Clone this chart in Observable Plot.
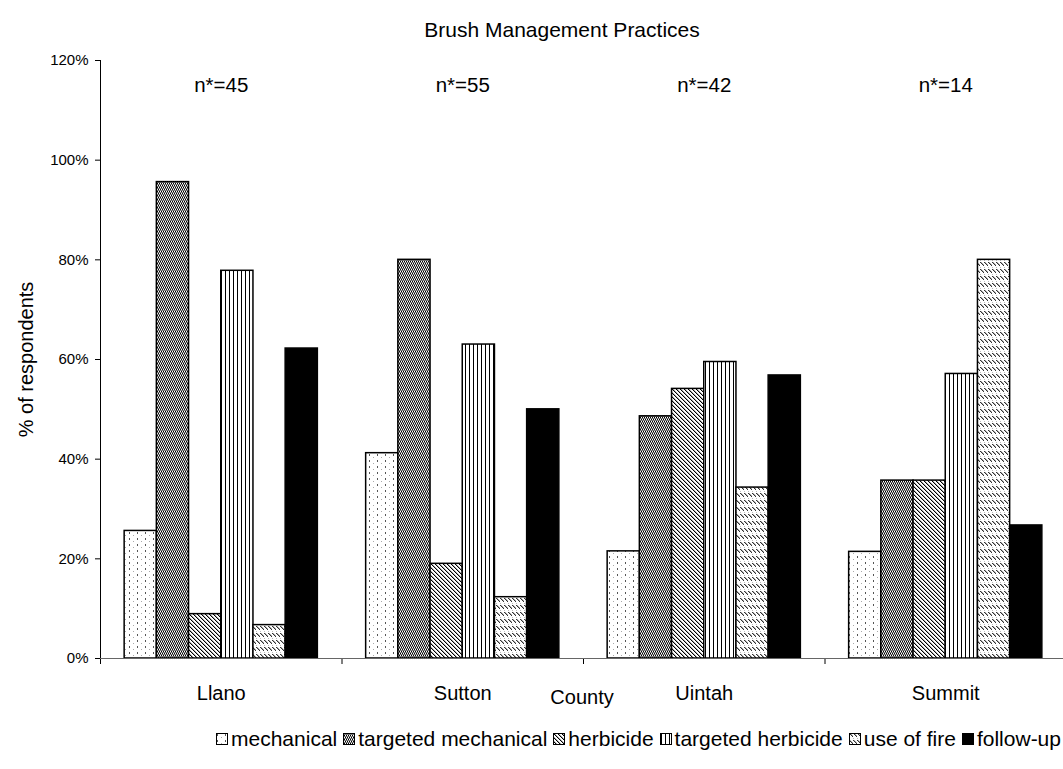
<!DOCTYPE html>
<html>
<head>
<meta charset="utf-8">
<script src="https://cdn.jsdelivr.net/npm/d3@7"></script>
<script src="https://cdn.jsdelivr.net/npm/@observablehq/plot@0.6"></script>
<style>
  html, body { margin: 0; padding: 0; background: #fff; }
  body { width: 1063px; height: 769px; overflow: hidden; position: relative; font-family: "Liberation Sans", Arial, sans-serif; color: #000; }
  #title { height: 45px; box-sizing: border-box; padding-left: 61px; text-align: center; font-size: 21px; line-height: 21px; padding-top: 19px; }
  #chart { height: 670px; }
  #legend { position: absolute; left: 216px; top: 727px; white-space: nowrap; font-size: 21px; line-height: 24px; display: flex; align-items: center; }
  #legend .item { display: inline-flex; align-items: center; margin-right: 6px; }
  #legend svg { margin-right: 3px; }
</style>
</head>
<body>
<div id="title">Brush Management Practices</div>
<div id="chart"></div>
<div id="legend"></div>
<script>
// ---- data ----
const counties = ["Llano", "Sutton", "Uintah", "Summit"];
const sampleSizes = [45, 55, 42, 14];
const practices = ["mechanical", "targeted mechanical", "herbicide", "targeted herbicide", "use of fire", "follow-up"];
const mechanical          = [0.256, 0.412, 0.215, 0.214];
const targetedMechanical  = [0.956, 0.800, 0.486, 0.357];
const herbicide           = [0.089, 0.190, 0.541, 0.357];
const targetedHerbicide   = [0.778, 0.630, 0.595, 0.571];
const useOfFire           = [0.067, 0.123, 0.343, 0.800];
const followUp            = [0.622, 0.500, 0.568, 0.267];
const yTicks = [0, 0.2, 0.4, 0.6, 0.8, 1.0, 1.2];
const yLabel = "% of respondents";

const series = [mechanical, targetedMechanical, herbicide, targetedHerbicide, useOfFire, followUp];
const patternIds = ["p-mech", "p-tmech", "p-herb", "p-therb", "p-fire", "p-follow"];

// grouping geometry in category units (Excel gap width 150%)
const gap = 1.5;
const span = practices.length + gap;

const rows = [];
practices.forEach((p, j) => counties.forEach((c, i) => rows.push({county: c, ci: i, practice: p, pj: j, value: series[j][i]})));

const barMarks = practices.map((p, j) => Plot.rectY(rows.filter(d => d.pj === j), {
  x1: d => d.ci * span + gap / 2 + d.pj,
  x2: d => d.ci * span + gap / 2 + d.pj + 1,
  y: "value",
  fill: `url(#${patternIds[j]})`,
  stroke: "#000",
  strokeWidth: 1.5
}));

const chart = Plot.plot({
  width: 1063,
  height: 670,
  marginTop: 15,
  marginBottom: 57,
  marginLeft: 100,
  marginRight: 0,
  style: {fontFamily: "Liberation Sans, Arial, sans-serif", fontSize: "15px", background: "#fff", color: "#000", overflow: "visible"},
  x: {
    domain: [0, counties.length * span],
    range: [100, 1066],
    ticks: counties.map((c, i) => i * span),
    tickFormat: () => "",
    tickSize: 6,
    label: null
  },
  y: {
    domain: [0, 1.2],
    ticks: yTicks,
    tickFormat: d3.format(".0%"),
    tickSize: 5,
    tickPadding: 7,
    label: yLabel,
    labelAnchor: "center",
    labelOffset: 82
  },
  marks: [
    ...barMarks,
    Plot.ruleY([0], {stroke: "#666", strokeWidth: 1.2}),
    Plot.ruleX([0], {stroke: "#000", strokeWidth: 1}),
    Plot.text(counties, {x: (c, i) => i * span + span / 2, frameAnchor: "bottom", dy: 41, text: c => c, fontSize: 20}),
    Plot.text(counties, {x: (c, i) => i * span + span / 2, y: () => 1.15, text: (c, i) => `n*=${sampleSizes[i]}`, fontSize: 20.5}),
    Plot.text(["County"], {frameAnchor: "bottom", dy: 45, text: d => d, fontSize: 20})
  ]
});

// pattern definitions
function addPatterns(svgSel) {
  const defs = svgSel.insert("defs", ":first-child");
  function pat(id, w, h, pixels, bg) {
    const p = defs.append("pattern").attr("id", id).attr("patternUnits", "userSpaceOnUse").attr("width", w).attr("height", h);
    p.append("rect").attr("width", w).attr("height", h).attr("fill", bg || "#fff");
    pixels.forEach(([x, y, pw, ph, col]) => p.append("rect").attr("x", x).attr("y", y).attr("width", pw).attr("height", ph).attr("fill", col));
  }
  pat("p-mech", 8, 6, [[1, 1, 1, 2, "#555"], [5, 4, 1, 1, "#aaa"]]);
  pat("p-tmech", 2, 4, [[0, 0, 1, 1, "#000"], [0, 1, 2, 1, "#7a7a7a"], [1, 2, 1, 1, "#000"], [0, 3, 2, 1, "#7a7a7a"]]);
  pat("p-herb", 4, 4, [[0, 0, 1, 1, "#000"], [1, 1, 1, 1, "#000"], [2, 2, 1, 1, "#000"], [3, 3, 1, 1, "#000"],
                       [1, 0, 1, 1, "#aaa"], [2, 1, 1, 1, "#aaa"], [3, 2, 1, 1, "#aaa"], [0, 3, 1, 1, "#aaa"]]);
  pat("p-therb", 4, 4, [[1, 0, 1, 4, "#000"]]);
  pat("p-fire", 4, 7, [[0, 0, 1, 1, "#333"], [1, 1, 1, 1, "#333"], [2, 2, 1, 1, "#333"], [3, 3, 1, 1, "#333"],
                       [1, 0, 1, 1, "#aaa"], [2, 1, 1, 1, "#aaa"], [3, 2, 1, 1, "#aaa"], [0, 5, 1, 1, "#bbb"]]);
  pat("p-follow", 4, 4, [], "#000");
}

const svg = d3.select(chart);
addPatterns(svg);
// axis label: plain text (no arrow), larger font
svg.selectAll("text").filter(function() { return this.textContent.trim().startsWith(yLabel); })
  .text(yLabel)
  .style("font-size", "20px");
document.getElementById("chart").appendChild(chart);

// legend
const legend = d3.select("#legend");
practices.forEach((p, j) => {
  const item = legend.append("span").attr("class", "item");
  const s = item.append("svg").attr("width", 12).attr("height", 12);
  s.append("rect").attr("x", 0.5).attr("y", 0.5).attr("width", 11).attr("height", 11)
    .attr("fill", `url(#${patternIds[j]})`).attr("stroke", "#000").attr("stroke-width", 1);
  item.append("span").text(p);
});
</script>
</body>
</html>
